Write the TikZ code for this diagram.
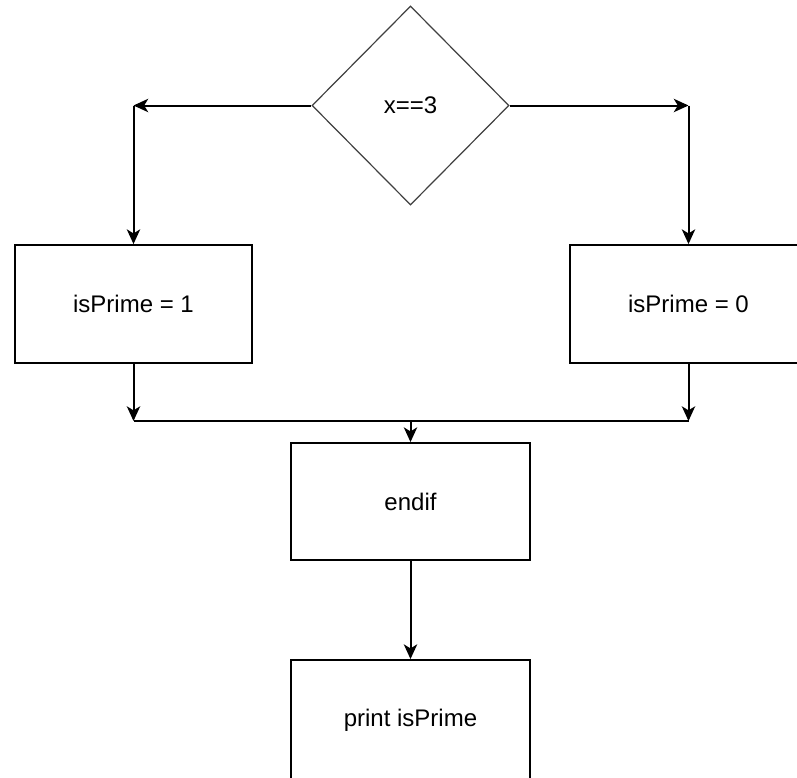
\documentclass[tikz,border=0pt]{standalone}
\usepackage{fontspec}
\setmainfont{Liberation Sans}
\usetikzlibrary{shapes.geometric,arrows.meta}

\tikzset{
  procbox/.style={draw=black, line width=1.4pt, fill=white, inner sep=0pt,
    minimum width=177.75pt, minimum height=88.5pt, font=\fontsize{18}{21}\selectfont},
  decision/.style={diamond, draw=black!75, line width=0.9pt, inner sep=0pt,
    minimum width=147.75pt, minimum height=149.25pt, font=\fontsize{18}{21}\selectfont},
  flow/.style={draw=black, line width=1.5pt,
    -{Stealth[length=11pt, width=10pt, inset=3pt]}},
  joinline/.style={draw=black, line width=1.5pt}
}

\begin{document}
\begin{tikzpicture}[x=0.75pt, y=-0.75pt]
  \clip (0,0) rectangle (797,778);
  \fill[white] (0,0) rectangle (797,778);

  % decision
  \node[decision] (cond) at (410.5,105.5) {x==3};

  % branch targets
  \node[procbox] (yes) at (133.5,304) {isPrime = 1};
  \node[procbox] (no)  at (688.5,304) {isPrime = 0};

  % merge and following steps
  \node[procbox, minimum width=179.25pt, minimum height=87.75pt] (endif) at (410.5,501.5) {endif};
  \node[procbox, minimum width=179.25pt, minimum height=90pt] (out) at (410.5,720) {print isPrime};

  % corner points of the branches
  \coordinate (lc) at (133.5,105.5);
  \coordinate (rc) at (688.5,105.5);
  \coordinate (ljoin) at (133.5,421);
  \coordinate (rjoin) at (688.5,421);
  \coordinate (mjoin) at (410.5,421);

  \draw[flow] (cond.west) -- (lc);
  \draw[flow] (lc) -- (yes.north);
  \draw[flow] (cond.east) -- (rc);
  \draw[flow] (rc) -- (no.north);

  \draw[flow] (yes.south) -- (ljoin);
  \draw[flow] (no.south) -- (rjoin);
  \draw[joinline] (ljoin) -- (rjoin);
  \draw[flow] (mjoin) -- (endif.north);

  \draw[flow] (endif.south) -- (out.north);
\end{tikzpicture}
\end{document}
